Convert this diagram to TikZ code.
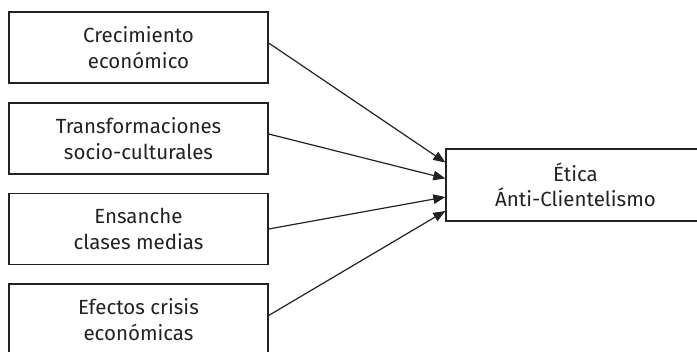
\documentclass[tikz,border=0pt]{standalone}
\usepackage{fontspec}
\setmainfont{Fira Sans}
\usetikzlibrary{arrows.meta}
\definecolor{ink}{HTML}{222222}
\tikzset{
  factor/.style={draw=ink, line width=1.3pt, text=ink, minimum width=259pt, minimum height=71pt,
    inner sep=0pt, align=center, font=\fontsize{20.5}{25.5}\selectfont},
  link/.style={draw=ink, line width=1.2pt, -{Triangle[length=12pt,width=9.5pt]}}
}
\begin{document}
\begin{tikzpicture}[x=1pt,y=1pt]
\useasboundingbox (0,0) rectangle (697,352);
\clip (0,0) rectangle (697,352);
\node[factor] (b1) at (138.5,304.5) {Crecimiento\\económico};
\node[factor] (b2) at (138.5,213.5) {Transformaciones\\socio-culturales};
\node[factor] (b3) at (138.5,123) {Ensanche\\clases medias};
\node[factor] (b4) at (138.5,32.5) {Efectos crisis\\económicas};
\node[factor, minimum height=72pt] (t) at (575.5,167) {Ética\\Ánti-Clientelismo};
\draw[link] ([yshift=4.5pt]b1.east) -- ([yshift=22.5pt]t.west);
\draw[link] ([yshift=4.5pt]b2.east) -- ([yshift=6.5pt]t.west);
\draw[link] (b3.east) -- ([yshift=-12pt]t.west);
\draw[link] ([yshift=4pt]b4.east) -- ([yshift=-26pt]t.west);
\end{tikzpicture}
\end{document}
